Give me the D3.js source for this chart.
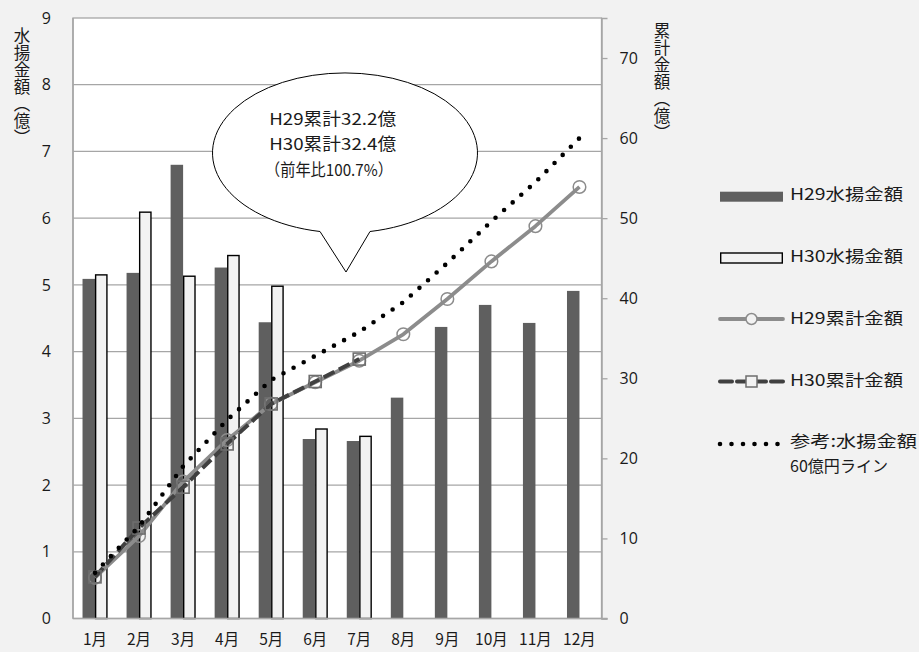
<!DOCTYPE html>
<html><head><meta charset="utf-8">
<script src="https://cdn.jsdelivr.net/npm/d3@7"></script>
<style>
html,body{margin:0;padding:0;background:#f2f2f2;}
svg{display:block;}
text{font-family:'Noto Sans CJK JP','Open Sans',sans-serif;fill:#1a1a1a;}
</style></head>
<body>
<svg id="chart" width="919" height="652"></svg>
<script>
const months = ["1月","2月","3月","4月","5月","6月","7月","8月","9月","10月","11月","12月"];
const h29Monthly = [5.09, 5.18, 6.80, 5.26, 4.44, 2.69, 2.66, 3.31, 4.37, 4.70, 4.43, 4.91];
const h30Monthly = [5.15, 6.09, 5.13, 5.44, 4.98, 2.84, 2.73, null, null, null, null, null];
const h29Cumulative = [5.1, 10.3, 17.1, 22.3, 26.8, 29.5, 32.2, 35.5, 39.9, 44.6, 49.0, 53.9];
const h30Cumulative = [5.2, 11.3, 16.4, 21.8, 26.8, 29.6, 32.4];
const target60 = [5.7, 11.5, 19.0, 24.8, 29.8, 32.8, 35.8, 39.5, 44.4, 49.6, 54.5, 60.0];
const leftTicks = [0,1,2,3,4,5,6,7,8,9];
const rightTicks = [0,10,20,30,40,50,60,70];
const legendLabels = ["H29水揚金額","H30水揚金額","H29累計金額","H30累計金額","参考:水揚金額"];
const legendLabel2 = "60億円ライン";
const bubbleLines = ["H29累計32.2億","H30累計32.4億","（前年比100.7%）"];
const leftTitle = "水揚金額（億）";
const rightTitle = "累計金額（億）";

const svg = d3.select("#chart");
const L = 73, R = 601.5, T = 18, B = 618.5;

const x = d3.scaleBand().domain(months).range([L, R]).paddingInner(0).paddingOuter(0);
const yL = d3.scaleLinear().domain([0, 9]).range([B, T]);
const yR = d3.scaleLinear().domain([0, 75]).range([B, T]);
const cx = m => x(m) + x.bandwidth() / 2;
const barW = 12.5;

// plot background
svg.append("rect").attr("x", L).attr("y", T).attr("width", R - L).attr("height", B - T)
  .attr("fill", "#ffffff");

// gridlines
svg.append("g").selectAll("line").data(leftTicks.filter(d => d > 0 && d < 9)).join("line")
  .attr("x1", L).attr("x2", R).attr("y1", d => yL(d)).attr("y2", d => yL(d))
  .attr("stroke", "#a6a6a6").attr("stroke-width", 1.3);

// border
svg.append("rect").attr("x", L).attr("y", T).attr("width", R - L).attr("height", B - T)
  .attr("fill", "none").attr("stroke", "#a6a6a6").attr("stroke-width", 1.3);

// bars
svg.append("g").selectAll("rect").data(months.map((m, i) => ({m, v: h29Monthly[i]}))).join("rect")
  .attr("x", d => cx(d.m) - barW).attr("width", barW)
  .attr("y", d => yL(d.v)).attr("height", d => yL(0) - yL(d.v))
  .attr("fill", "#5f5f5f");
svg.append("g").selectAll("rect").data(months.map((m, i) => ({m, v: h30Monthly[i]})).filter(d => d.v != null)).join("rect")
  .attr("x", d => cx(d.m) + 0.6).attr("width", barW - 1.2)
  .attr("y", d => yL(d.v)).attr("height", d => yL(0) - yL(d.v))
  .attr("fill", "#f2f2f2").attr("stroke", "#000").attr("stroke-width", 1.4);

// axis lines on top
svg.append("line").attr("x1", L).attr("x2", R + 6).attr("y1", B).attr("y2", B)
  .attr("stroke", "#a6a6a6").attr("stroke-width", 1.5);
svg.append("line").attr("x1", L).attr("x2", L).attr("y1", T).attr("y2", B)
  .attr("stroke", "#a6a6a6").attr("stroke-width", 1.5);

// right axis
const rAxis = d3.axisRight(yR).tickValues(rightTicks).tickSize(6).tickPadding(12).tickFormat(d3.format("d"));
const gR = svg.append("g").attr("transform", `translate(${R},0)`).call(rAxis);
gR.select(".domain").attr("stroke", "#a6a6a6").attr("stroke-width", 1.5);
gR.selectAll(".tick line").attr("stroke", "#a6a6a6").attr("stroke-width", 1.3);
gR.selectAll(".tick text").attr("font-size", 16).attr("fill", "#1a1a1a")
  .style("font-family", "'Open Sans',sans-serif");

// left axis
const lAxis = d3.axisLeft(yL).tickValues(leftTicks).tickSize(0).tickPadding(22).tickFormat(d3.format("d"));
const gL = svg.append("g").attr("transform", `translate(${L},0)`).call(lAxis);
gL.select(".domain").remove();
gL.selectAll(".tick text").attr("font-size", 16).attr("fill", "#1a1a1a")
  .style("font-family", "'Open Sans',sans-serif");

// bottom axis labels
const bAxis = d3.axisBottom(x).tickSize(0).tickPadding(15);
const gB = svg.append("g").attr("transform", `translate(0,${B})`).call(bAxis);
gB.select(".domain").remove();
gB.selectAll(".tick text").attr("font-size", 15.5).attr("fill", "#1a1a1a")
  .style("font-family", "'Noto Sans CJK JP',sans-serif").attr("dy", "0.71em");

// lines
const lineL = (arr) => d3.line().x((d, i) => cx(months[i])).y(d => yR(d))(arr);

svg.append("path").attr("d", lineL(h29Cumulative)).attr("fill", "none")
  .attr("stroke", "#8c8c8c").attr("stroke-width", 3.8).attr("stroke-linejoin", "round");
svg.append("g").selectAll("circle").data(h29Cumulative).join("circle")
  .attr("cx", (d, i) => cx(months[i])).attr("cy", d => yR(d)).attr("r", 6.3)
  .attr("fill", "none").attr("stroke", "#8c8c8c").attr("stroke-width", 1.5);

svg.append("path").attr("d", lineL(h30Cumulative)).attr("fill", "none")
  .attr("stroke", "#404040").attr("stroke-width", 4).attr("stroke-dasharray", "12,5");
svg.append("g").selectAll("rect").data(h30Cumulative).join("rect")
  .attr("x", (d, i) => cx(months[i]) - 6).attr("y", d => yR(d) - 6)
  .attr("width", 12).attr("height", 12)
  .attr("fill", "none").attr("stroke", "#6e6e6e").attr("stroke-width", 1.6);

svg.append("path").attr("d", lineL(target60)).attr("fill", "none")
  .attr("stroke", "#000").attr("stroke-width", 4.6).attr("stroke-linecap", "round")
  .attr("stroke-dasharray", "0,11.5");

// bubble
svg.append("path")
  .attr("d", "M 320,231.5 A 132.5 80 0 1 1 370,231.5 L 346,272 Z")
  .attr("fill", "#ffffff").attr("stroke", "#000").attr("stroke-width", 1);
const bubY = [119, 144, 170];
const bubX = [332.7, 332.7, 329];
const bubLen = [127, 127, 128];
svg.append("g").selectAll("text").data(bubbleLines).join("text")
  .attr("x", (d, i) => bubX[i]).attr("y", (d, i) => bubY[i]).attr("dy", "0.36em")
  .attr("text-anchor", "middle").attr("font-size", 16.5)
  .attr("textLength", (d, i) => bubLen[i]).attr("lengthAdjust", "spacingAndGlyphs")
  .text(d => d);

// axis titles
svg.append("text").attr("x", 22).attr("y", 27)
  .style("writing-mode", "vertical-rl").style("font-family", "'Noto Sans CJK JP',sans-serif")
  .attr("font-size", 16.5).attr("letter-spacing", 0.5).text(leftTitle);
svg.append("text").attr("x", 662).attr("y", 22)
  .style("writing-mode", "vertical-rl").style("font-family", "'Noto Sans CJK JP',sans-serif")
  .attr("font-size", 16.5).attr("letter-spacing", 0.5).text(rightTitle);

// legend
const lgX0 = 720, lgX1 = 783, lgMid = 751.5, lgText = 790;
const lgY = [196.7, 258, 319, 381.5, 444];
const lgTextY = [194, 256.5, 318, 380.5, 441];
const lgLen = [113, 113, 113, 113, 127];
const lg = svg.append("g");
lg.append("rect").attr("x", lgX0).attr("y", lgY[0] - 5).attr("width", lgX1 - lgX0).attr("height", 10).attr("fill", "#5f5f5f");
lg.append("rect").attr("x", lgX0 + 0.7).attr("y", lgY[1] - 5).attr("width", lgX1 - lgX0 - 1.4).attr("height", 10)
  .attr("fill", "#f2f2f2").attr("stroke", "#000").attr("stroke-width", 1.4);
lg.append("line").attr("x1", lgX0).attr("x2", lgX1).attr("y1", lgY[2]).attr("y2", lgY[2])
  .attr("stroke", "#8c8c8c").attr("stroke-width", 3.8).attr("stroke-linecap", "round");
lg.append("circle").attr("cx", lgMid).attr("cy", lgY[2]).attr("r", 5.5)
  .attr("fill", "#f2f2f2").attr("stroke", "#8c8c8c").attr("stroke-width", 1.5);
lg.append("line").attr("x1", lgX0).attr("x2", lgX1).attr("y1", lgY[3]).attr("y2", lgY[3])
  .attr("stroke", "#404040").attr("stroke-width", 4).attr("stroke-dasharray", "12,5").attr("stroke-linecap", "round");
lg.append("rect").attr("x", lgMid - 5.5).attr("y", lgY[3] - 5.5).attr("width", 11).attr("height", 11)
  .attr("fill", "#f2f2f2").attr("stroke", "#6e6e6e").attr("stroke-width", 1.5);
lg.append("line").attr("x1", lgX0).attr("x2", lgX1 - 5).attr("y1", lgY[4]).attr("y2", lgY[4])
  .attr("stroke", "#000").attr("stroke-width", 4.6).attr("stroke-linecap", "round").attr("stroke-dasharray", "0,11.5");
lg.selectAll("text.lab").data(legendLabels).join("text").attr("class", "lab")
  .attr("x", lgText).attr("y", (d, i) => lgTextY[i]).attr("dy", "0.36em").attr("font-size", 16)
  .attr("textLength", (d, i) => lgLen[i]).attr("lengthAdjust", "spacingAndGlyphs")
  .text(d => d);
lg.append("text").attr("x", lgText).attr("y", 466.5).attr("dy", "0.36em").attr("font-size", 16)
  .attr("textLength", 98).attr("lengthAdjust", "spacingAndGlyphs").text(legendLabel2);
</script>
</body></html>
